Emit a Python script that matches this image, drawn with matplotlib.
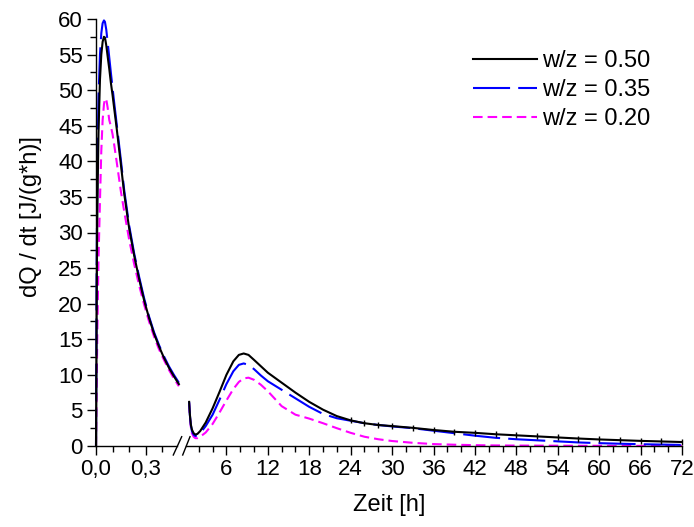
import matplotlib
matplotlib.use("Agg")
import matplotlib.pyplot as plt
from matplotlib.lines import Line2D
import numpy as np

plt.rcParams['font.family'] = ['Liberation Sans', 'DejaVu Sans']

# ---------------- data ----------------
labels = ["w/z = 0.50", "w/z = 0.35", "w/z = 0.20"]
colors = ["black", "blue", "magenta"]

# early period (h)
t_left = [0, 0.004, 0.008, 0.015, 0.024, 0.032, 0.04, 0.048, 0.054, 0.062, 0.07,
          0.08, 0.09, 0.1, 0.11, 0.125, 0.15, 0.17, 0.2, 0.23, 0.26, 0.29, 0.32,
          0.35, 0.38, 0.41, 0.44, 0.47, 0.5]
q50_left = [0, 20, 33, 44, 51.5, 55, 56.8, 57.5, 57.4, 56.3, 54.8,
            53.0, 51.0, 49.3, 47.4, 44.6, 39.6, 35.5, 30.6, 26.8, 23.5, 20.5, 18.0,
            15.8, 14.0, 12.4, 11.0, 9.8, 8.7]
q35_left = [0, 25, 38, 49, 55, 58, 59.4, 59.8, 59.6, 58.5, 56.8,
            54.6, 52.4, 50.3, 48.2, 45.2, 40.2, 36.0, 31.0, 27.1, 23.8, 20.8, 18.2,
            16.0, 14.2, 12.6, 11.2, 10.0, 8.9]
q20_left = [0, 8, 16, 26, 34.5, 41.5, 45.8, 48.0, 48.8, 48.7, 47.6,
            45.8, 44.9, 43.8, 42.3, 39.9, 35.8, 33.0, 29.0, 25.6, 22.6, 19.9, 17.5,
            15.4, 13.6, 12.1, 10.7, 9.5, 8.4]

# main period (h)
t_right = [0.6, 0.7, 0.85, 1.0, 1.25, 1.5, 1.8, 2.2, 3, 4, 5, 6, 7, 7.8, 8.5, 9.2,
           10, 11, 12, 14, 16, 18, 20, 22, 24, 26, 28, 30, 33, 36, 39, 42, 45,
           48, 51, 54, 57, 60, 63, 66, 69, 72]
q50_right = [6.2, 4.5, 3.0, 2.3, 1.8, 1.6, 1.7, 2.1, 3.3, 5.3, 7.6, 10.0, 11.9, 12.8,
             13.0, 12.8, 12.1, 11.2, 10.3, 8.9, 7.5, 6.2, 5.1, 4.2, 3.6, 3.2, 2.95,
             2.8, 2.55, 2.25, 2.0, 1.85, 1.65, 1.5, 1.35, 1.2, 1.05, 0.92, 0.82,
             0.72, 0.64, 0.56]
q35_right = [6.2, 4.4, 2.9, 2.1, 1.6, 1.4, 1.5, 1.8, 2.8, 4.4, 6.5, 8.7, 10.5, 11.4,
             11.6, 11.4, 10.8, 9.9, 9.1, 7.9, 6.7, 5.5, 4.5, 3.9, 3.55, 3.2, 2.95,
             2.75, 2.5, 2.15, 1.8, 1.45, 1.15, 0.95, 0.8, 0.65, 0.5, 0.4, 0.32,
             0.25, 0.2, 0.15]
q20_right = [6.0, 4.2, 2.6, 1.8, 1.3, 1.1, 1.1, 1.3, 1.9, 3.1, 4.7, 6.4, 8.0, 9.0,
             9.5, 9.6, 9.3, 8.6, 7.7, 5.6, 4.4, 3.85, 3.2, 2.5, 1.85, 1.3, 0.95,
             0.7, 0.45, 0.27, 0.18, 0.12, 0.08, 0.06, 0.05, 0.04, 0.03, 0.03, 0.02,
             0.02, 0.02, 0.02]

series_left = [q50_left, q35_left, q20_left]
series_right = [q50_right, q35_right, q20_right]

left_xticks = [0.0, 0.3]
left_xticklabels = ["0,0", "0,3"]
left_minor = [0.1, 0.2, 0.4]
right_xticks = list(range(6, 73, 6))
right_minor = [v for v in range(2, 72, 2) if v % 6 != 0]
yticks = list(range(0, 61, 5))

# ---------------- figure ----------------
W, H = 694, 527
fig = plt.figure(figsize=(W / 100, H / 100), dpi=100)

def fx(px):
    return px / W

def fy(py):
    return 1 - py / H

ax_bottom = fy(446)
ax_h = fy(19) - fy(446)
axL = fig.add_axes([fx(96), ax_bottom, fx(180) - fx(96), ax_h])
axR = fig.add_axes([fx(184), ax_bottom, fx(682) - fx(184), ax_h], sharey=axL)

dash_styles = [None, (0, (17.8, 3.9)), (0, (4.6, 2.4))]
lw = 1.5
for ax, t, sers in [(axL, t_left, series_left), (axR, t_right, series_right)]:
    for i, (vals, c, ds) in enumerate(zip(sers, colors, dash_styles)):
        kw = dict(color=c, lw=lw, clip_on=False)
        if ds is not None:
            kw['linestyle'] = ds
        if i == 0 and ax is axR:
            kw.update(marker='|', markersize=5, markeredgewidth=1.0,
                      markevery=slice(24, None))
        ax.plot(t, vals, label=labels[i], zorder=3 - i, **kw)

axL.set_xlim(0, 84 / 165.7)
axR.set_xlim(-1 / 6.9, 72)
axL.set_ylim(0, 60)

for ax in (axL, axR):
    ax.spines['top'].set_visible(False)
    ax.spines['right'].set_visible(False)
    for s in ax.spines.values():
        s.set_linewidth(1.0)
    ax.tick_params(which='major', direction='out', length=6.5, width=1.0,
                   labelsize=16, pad=3)
    ax.tick_params(which='minor', direction='out', length=4, width=1.0)
    ax.set_facecolor('none')

axR.spines['left'].set_visible(False)
axR.tick_params(axis='y', which='both', left=False, labelleft=False)

axL.spines['bottom'].set_bounds(0, (177 - 96) / 165.7)
axR.spines['bottom'].set_bounds((186 - 185) / 6.9, 72)

axL.set_xticks(left_xticks)
axL.set_xticklabels(left_xticklabels)
axL.set_xticks(left_minor, minor=True)
axL.set_yticks(yticks)
axL.set_yticks(np.arange(2.5, 60, 5), minor=True)

axR.set_xticks(right_xticks)
axR.set_xticklabels([str(v) for v in right_xticks])
axR.set_xticks(right_minor, minor=True)

# break marks
for x0, x1 in [(173.3, 181.7), (182.7, 190.0)]:
    fig.add_artist(Line2D([fx(x0), fx(x1)], [fy(455), fy(436.7)],
                          transform=fig.transFigure, color='black', lw=1.0))

fig.text(fx(31), fy(217), "dQ / dt [J/(g*h)]", rotation=90, fontsize=17,
         ha='center', va='center')
fig.text(fx(389), fy(505), "Zeit [h]", fontsize=17, ha='center', va='center')

handles, lbls = axR.get_legend_handles_labels()
leg_handles = [Line2D([], [], color=h.get_color(), lw=lw) for h in handles]
for lh, ds in zip(leg_handles, dash_styles):
    if ds is not None:
        lh.set_linestyle(ds)
axR.legend(leg_handles, lbls, loc='upper right',
           bbox_to_anchor=(1.0 - 10 / 498, 1.0 - 10 / 427),
           frameon=False, fontsize=17, handlelength=2.7, handletextpad=0.25,
           labelspacing=0.3, borderaxespad=0.5)

fig.savefig("out.png", dpi=100)
